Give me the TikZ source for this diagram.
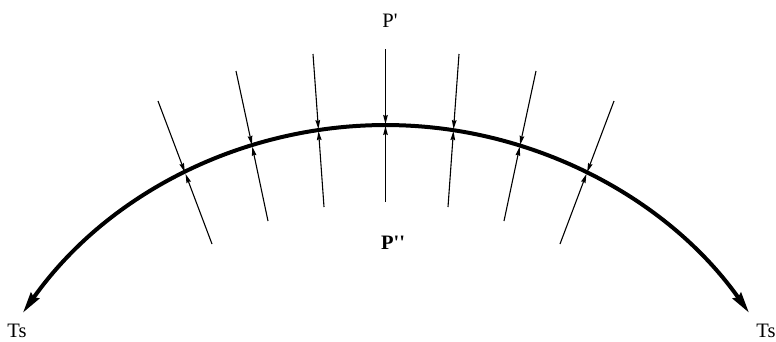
\documentclass[tikz,border=0pt]{standalone}
\usepackage{fontspec}
\newfontfamily\labfont{Liberation Serif}
\usetikzlibrary{arrows.meta}
\tikzset{
  beam/.style={line width=4pt, {Stealth[length=21pt,width=10pt,inset=2pt]}-{Stealth[length=21pt,width=10pt,inset=2pt]}},
  force/.style={line width=1.1pt, -{Stealth[length=9pt,width=4.6pt,inset=1pt]}, shorten >=1pt},
  lab/.style={font=\labfont\fontsize{20.5}{24}\selectfont, inner sep=0pt}
}
\begin{document}
\begin{tikzpicture}[x=1pt,y=-1pt]
\useasboundingbox (0,0) rectangle (776,341);
% arc
\draw[beam] (22.8,312.9) arc[start angle=215.3, end angle=324.7, radius=445];
% points on the curve
\coordinate (c1) at (185.2,173);
\coordinate (c2) at (252.1,145.8);
\coordinate (c3) at (318.5,130.1);
\coordinate (c4) at (385.5,125);
\coordinate (c5) at (453.5,130.1);
\coordinate (c6) at (519.9,145.8);
\coordinate (c7) at (586.8,173);
% top ends
\coordinate (t1) at (158,101);
\coordinate (t2) at (236,71);
\coordinate (t3) at (313,54);
\coordinate (t4) at (385.5,49);
\coordinate (t5) at (459,54);
\coordinate (t6) at (536,71);
\coordinate (t7) at (614,101);
% bottom ends
\coordinate (b1) at (212,244);
\coordinate (b2) at (268,221);
\coordinate (b3) at (324,207);
\coordinate (b4) at (385.5,202);
\coordinate (b5) at (448,207);
\coordinate (b6) at (504,221);
\coordinate (b7) at (560,244);
\foreach \i in {1,...,7}{
  \draw[force] (t\i) -- (c\i);
  \draw[force] (b\i) -- (c\i);
}
% labels
\node[lab] (pp) at (390,21) {P'};
\node[lab] (ppp) at (393,243) {\bfseries P''};
\node[lab] (tsl) at (17,331) {Ts};
\node[lab] (tsr) at (766,331) {Ts};
\end{tikzpicture}
\end{document}
